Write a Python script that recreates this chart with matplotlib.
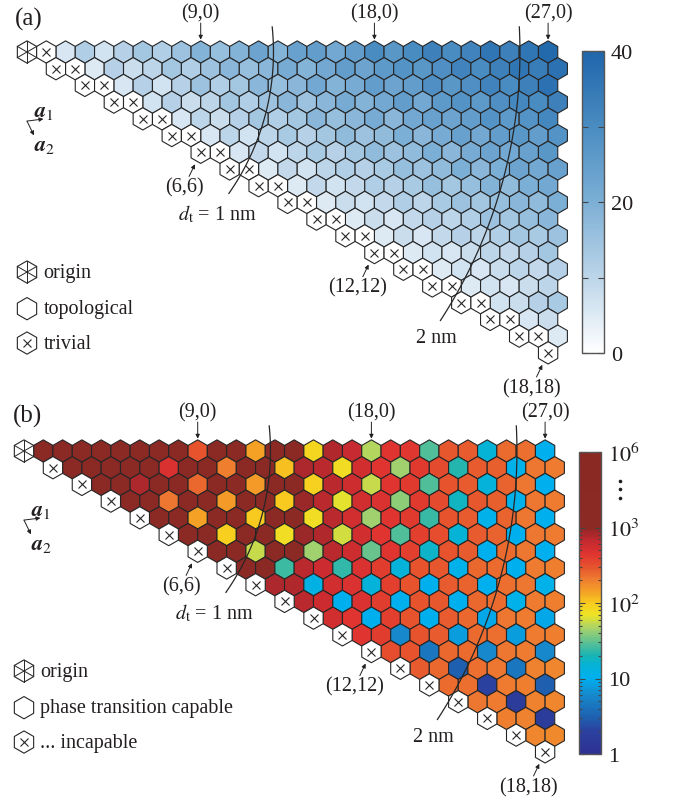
import numpy as np
import matplotlib.pyplot as plt
from matplotlib.patches import RegularPolygon
from matplotlib.collections import PatchCollection
from matplotlib.colors import LinearSegmentedColormap, Normalize, FuncNorm

plt.rcParams['font.family'] = ['Liberation Serif', 'DejaVu Serif']
plt.rcParams['mathtext.fontset'] = 'stix'

nan = np.nan
D = 1e4  # anything above 10^3 is drawn dark red

# one list per chiral row m, n runs from m upwards; nan = origin / X cell
# (a) topological invariant-ish quantity, 0..40
topo_rows = [
    [nan, nan, 6, 12, 7, 11, 14, 12, 15, 19, 16, 19, 23, 19, 24, 25, 22, 25, 30, 27, 30, 33, 30, 32, 36, 33, 36, 39],
    [nan, nan, 5, 11, 8, 10, 14, 12, 15, 18, 16, 18, 21, 19, 22, 25, 23, 26, 28, 27, 29, 32, 30, 33, 36, 34, 37],
    [nan, nan, 6, 11, 7, 11, 15, 12, 14, 18, 16, 18, 22, 19, 21, 25, 23, 25, 29, 27, 29, 32, 30, 33, 37],
    [nan, nan, 7, 11, 8, 10, 14, 12, 15, 18, 15, 18, 21, 19, 22, 25, 22, 26, 28, 26, 29, 31, 30, 33],
    [nan, nan, 6, 10, 8, 11, 14, 12, 14, 18, 16, 18, 21, 18, 22, 24, 23, 25, 28, 26, 28, 31],
    [nan, nan, 6, 10, 7, 10, 13, 11, 14, 17, 15, 17, 20, 18, 21, 24, 22, 25, 27, 25, 28],
    [nan, nan, 6, 9, 7, 10, 13, 11, 14, 17, 15, 17, 20, 18, 21, 23, 22, 24, 27],
    [nan, nan, 5, 9, 7, 10, 12, 11, 13, 16, 15, 17, 20, 18, 20, 23, 22, 24],
    [nan, nan, 5, 9, 7, 9, 12, 11, 13, 16, 14, 16, 19, 17, 20, 22],
    [nan, nan, 5, 8, 7, 9, 12, 10, 13, 15, 14, 16, 18, 17, 20],
    [nan, nan, 5, 8, 6, 9, 11, 10, 12, 15, 14, 16, 18],
    [nan, nan, 5, 8, 6, 9, 11, 10, 12, 14, 13, 15],
    [nan, nan, 5, 7, 6, 8, 10, 9, 11, 14],
    [nan, nan, 5, 7, 6, 8, 10, 9, 11],
    [nan, nan, 5, 7, 6, 8, 10],
    [nan, nan, 7, 8, 11, 13],
    [nan, nan, 6, 8],
    [nan, nan, 5],
    [nan],
]

# (b) transition quantity, 1..10^6
trans_rows = [
    [nan, D, D, D, D, D, D, D, D, 300, D, D, 140, D, D, 85, 750, 640, 50, 450, 430, 28, 290, 280, 15, 240, 230, 10],
    [nan, D, D, D, D, D, 500, D, D, 200, D, D, 110, 800, 700, 80, 550, 450, 45, 420, 330, 22, 280, 270, 11, 220, 210],
    [nan, D, D, 800, D, D, 250, D, D, 150, D, D, 90, 700, 580, 55, 450, 420, 28, 300, 280, 14, 260, 220, 10],
    [nan, D, D, 220, D, D, 150, D, D, 100, 900, 700, 65, 550, 480, 40, 420, 330, 18, 290, 270, 11, 220, 210],
    [nan, D, D, 140, D, D, 100, D, D, 75, 700, 550, 45, 450, 420, 24, 300, 280, 11, 260, 220, 10],
    [nan, D, D, 95, D, D, 75, 900, 750, 60, 550, 450, 28, 380, 320, 15, 280, 260, 10, 220, 210],
    [nan, D, D, 55, D, D, 45, 700, 580, 32, 450, 380, 17, 300, 280, 10, 240, 220, 10],
    [nan, D, D, 25, 700, 600, 23, 480, 400, 14, 300, 290, 11, 250, 240, 10, 210, 200],
    [nan, 800, 750, 12, 550, 480, 14, 380, 300, 10, 280, 260, 10, 230, 220, 11],
    [nan, 700, 600, 10, 480, 400, 10, 300, 290, 10, 250, 240, 11, 210, 200],
    [nan, 550, 450, 10, 380, 300, 10, 280, 250, 9, 220, 210, 9],
    [nan, 450, 400, 6, 300, 280, 8, 240, 230, 8, 210, 200],
    [nan, 320, 300, 4.5, 250, 240, 6, 215, 210, 6],
    [nan, 280, 250, 3, 230, 215, 4.5, 195, 190],
    [nan, 240, 230, 2, 210, 200, 3],
    [nan, 220, 210, 1.6, 195, 190],
    [nan, 200, 195, 1.6],
    [nan, 190, 180],
    [nan],
]

zigzag_marks = [9, 18, 27]
armchair_marks = [6, 12, 18]
diam_nm = [1, 2]
A_LATT = 0.246  # graphene lattice constant, nm

blue_stops = [0, 10, 20, 30, 40]
blue_colors = ['#ffffff', '#bcd5e9', '#7cafd5', '#4a8cc1', '#1f66ab']
jet_stops = [1, 2, 3, 6, 10, 15, 20, 30, 45, 70, 100, 140, 210, 300, 450, 650, 900, 1000, 1e6]
jet_colors = ['#2e3192', '#2b41a0', '#1f60b0', '#1689cc', '#00b0ef', '#05b3d6', '#18b4b4',
              '#5cc092', '#a3d26d', '#efe325', '#f8cb1e', '#f4a226', '#ee7b30', '#e6532d',
              '#df3430', '#c62a30', '#9e2729', '#8b2a25', '#8a2824']

W, H = 673, 804
S = 19.3
SQ3 = np.sqrt(3)
R_HEX = 1 / SQ3
EDGE = '#262626'
TXT = '#231f20'
FS = 14.5


def fwd(v):
    lv = np.log10(np.clip(v, 1e-9, None))
    return np.where(lv <= 3, lv, 3 + (lv - 3) / 3)


def inv(u):
    u = np.asarray(u, dtype=float)
    return np.where(u <= 3, 10 ** u, 10 ** (3 + 3 * (u - 3)))


def px_rect(x, y, w, h):
    return [x / W, 1 - (y + h) / H, w / W, h / H]


def panel_axes(fig, top, height, ox, oy):
    ax = fig.add_axes(px_rect(0, top, W, height))
    ax.set_xlim(-ox / S, (W - ox) / S)
    ax.set_ylim(-(top + height - oy) / S, (oy - top) / S)
    ax.axis('off')
    return ax


def spokes(ax, xy):
    for a in (90, 30, 150):
        t = np.radians(a)
        dx, dy = R_HEX * np.cos(t), R_HEX * np.sin(t)
        ax.plot([xy[0] - dx, xy[0] + dx], [xy[1] - dy, xy[1] + dy],
                color=EDGE, lw=0.7, zorder=4)


def blank_hex(ax, xy, kind):
    ax.add_patch(RegularPolygon(xy, 6, radius=R_HEX, fc='white', ec=EDGE,
                                lw=0.8, zorder=3))
    if kind == 'origin':
        spokes(ax, xy)
    elif kind == 'x':
        ax.plot(*xy, marker='x', ms=5.5, mew=0.8, color=EDGE, zorder=4)


def arrow(ax, p0, p1):
    ax.annotate('', xy=p1, xytext=p0,
                arrowprops=dict(arrowstyle='-|>', color=TXT, lw=0.7,
                                mutation_scale=6, shrinkA=0, shrinkB=0))


def draw_panel(ax, rows, cmap, norm, legend):
    hexes, vals = [], []
    for m, row in enumerate(rows):
        for k, v in enumerate(row):
            n = m + k
            xy = (n + m / 2, -m * SQ3 / 2)
            if np.isnan(v):
                blank_hex(ax, xy, 'origin' if n == 0 else 'x')
            else:
                hexes.append(RegularPolygon(xy, 6, radius=R_HEX))
                vals.append(v)
    pc = PatchCollection(hexes, cmap=cmap, norm=norm, edgecolors=EDGE,
                         linewidths=0.8, zorder=2)
    pc.set_array(np.asarray(vals))
    ax.add_collection(pc)

    # zigzag labels along the top row
    for n in zigzag_marks:
        ax.text(n, 2.05, f'({n},0)', ha='center', va='center', fontsize=FS, color=TXT)
        arrow(ax, (n, 1.5), (n, 0.64))
    # armchair labels along the diagonal
    for m in armchair_marks:
        cx, cy = 1.5 * m, -m * SQ3 / 2
        ax.text(cx - 0.85, cy - 1.8, f'({m},{m})', ha='center', va='center',
                fontsize=FS, color=TXT)
        arrow(ax, (cx - 0.6, cy - 1.25), (cx - 0.3, cy - 0.62))

    # constant-diameter arcs
    for d in diam_nm:
        R = np.pi * d / A_LATT
        a0 = np.degrees(np.arcsin(1.3 / R))
        a1 = -35 if d == 1 else -33
        t = np.radians(np.linspace(a0, a1, 120))
        ax.plot(R * np.cos(t), R * np.sin(t), color=EDGE, lw=0.9, zorder=5)
    ax.text(9.84, -8.39, r'$d_{\rm t}$ = 1 nm', ha='center', va='center',
            fontsize=FS, color=TXT)
    ax.text(21.2, -14.77, '2 nm', ha='center', va='center', fontsize=FS, color=TXT)

    # lattice vectors
    o = (0.0, -3.58)
    arrow(ax, o, (0.85, -3.47))
    arrow(ax, o, (0.36, -4.32))
    ax.text(0.9, -3.1, r'$\mathbfit{a}_1$', ha='center', va='center', fontsize=16, color=TXT)
    ax.text(0.9, -4.85, r'$\mathbfit{a}_2$', ha='center', va='center', fontsize=16, color=TXT)

    # legend
    for (kind, label), y in zip(legend, (-11.4, -13.3, -15.08)):
        blank_hex(ax, (0, y), kind)
        ax.text(0.85, y, label, ha='left', va='center', fontsize=FS, color=TXT)
    return pc


def style_cbar(cb):
    cb.outline.set_edgecolor('#555555')
    cb.outline.set_linewidth(1.0)
    cb.ax.tick_params(which='both', direction='in', left=True, right=True,
                      color='#444444', width=0.8, labelsize=16, labelcolor=TXT, pad=5)
    cb.ax.tick_params(which='major', length=4)
    cb.ax.tick_params(which='minor', length=2.5)


fig = plt.figure(figsize=(W / 100, H / 100), dpi=100)

blues = LinearSegmentedColormap.from_list(
    'topo', list(zip(np.array(blue_stops) / blue_stops[-1], blue_colors)))
jetlike = LinearSegmentedColormap.from_list(
    'trans', list(zip(fwd(np.array(jet_stops)) / 4, jet_colors)))
norm_a = Normalize(0, 40)
norm_b = FuncNorm((fwd, inv), vmin=1, vmax=1e6)

ax_a = panel_axes(fig, 0, 400, 27, 53)
pc_a = draw_panel(ax_a, topo_rows, blues, norm_a,
                  [('origin', 'origin'), ('', 'topological'), ('x', 'trivial')])
ax_b = panel_axes(fig, 400, 404, 24, 452)
pc_b = draw_panel(ax_b, trans_rows, jetlike, norm_b,
                  [('origin', 'origin'), ('', 'phase transition capable'), ('x', '... incapable')])

fig.text(29 / W, 1 - 19 / H, '(a)', ha='center', va='center', fontsize=18, color=TXT)
fig.text(27 / W, 1 - 416 / H, '(b)', ha='center', va='center', fontsize=18, color=TXT)

cax_a = fig.add_axes(px_rect(582, 52, 22, 302))
cb_a = fig.colorbar(pc_a, cax=cax_a)
cb_a.set_ticks([0, 10, 20, 30, 40], labels=['0', '', '20', '', '40'])
cax_a.minorticks_off()
style_cbar(cb_a)

cax_b = fig.add_axes(px_rect(579, 453, 22, 302))
cb_b = fig.colorbar(pc_b, cax=cax_b)
cb_b.set_ticks([1, 10, 100, 1000, 1e6],
               labels=['1', '10', r'$10^2$', r'$10^3$', r'$10^6$'])
minor = [k * 10 ** e for e in range(3) for k in range(2, 10)]
cax_b.yaxis.set_ticks(minor, minor=True)
style_cbar(cb_b)
# vertical ellipsis between 10^3 and 10^6
cax_b.plot([1.86] * 3, [0.905, 0.876, 0.848], ls='none', marker='o', ms=1.6,
           color=TXT, transform=cax_b.transAxes, clip_on=False)

fig.savefig('out.png', dpi=100)
